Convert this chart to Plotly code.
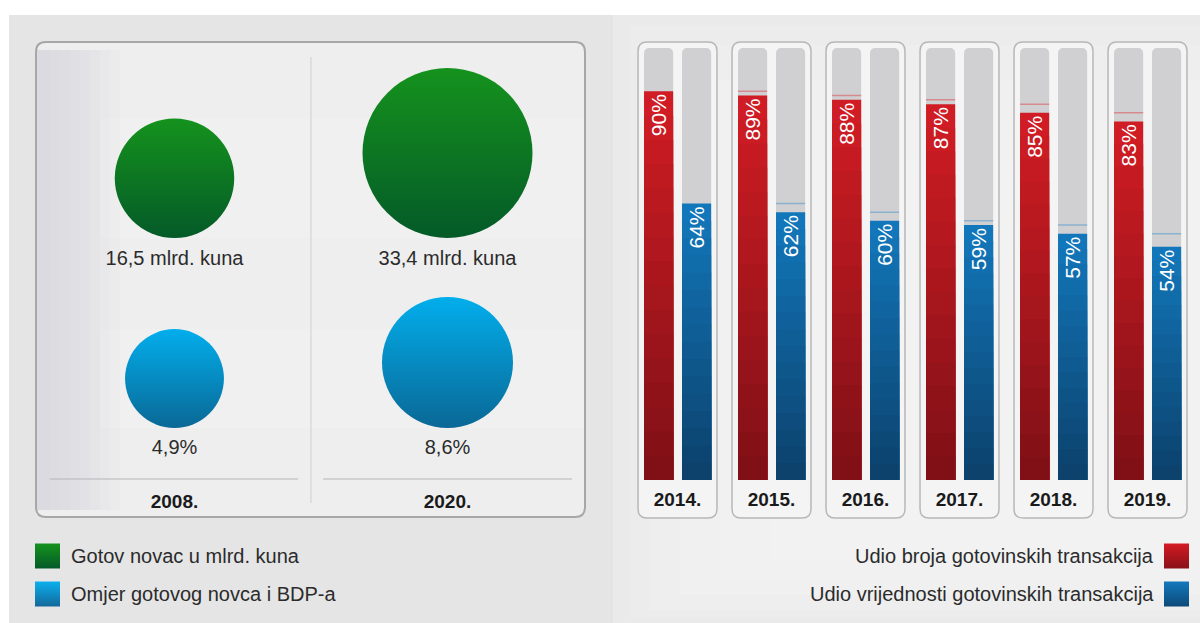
import math
import plotly.graph_objects as go

# ---------------- data ----------------
bubble_years = ["2008.", "2020."]
cash_bn_kuna = [16.5, 33.4]
cash_gdp_pct = [4.9, 8.6]
cash_labels = ["16,5 mlrd. kuna", "33,4 mlrd. kuna"]
gdp_labels = ["4,9%", "8,6%"]

bar_years = ["2014.", "2015.", "2016.", "2017.", "2018.", "2019."]
share_count = [90, 89, 88, 87, 85, 83]
share_value = [64, 62, 60, 59, 57, 54]

legend_left = ["Gotov novac u mlrd. kuna", "Omjer gotovog novca i BDP-a"]
legend_right = ["Udio broja gotovinskih transakcija", "Udio vrijednosti gotovinskih transakcija"]

# ---------------- layout helpers ----------------
W, H = 1200, 623
FONT = "Liberation Sans, Arial, sans-serif"


def px(x):
    return x / W


def py(y):
    return 1 - y / H


BASE_Y, TOP_Y = 480, 48
YDOM = [py(BASE_Y), py(TOP_Y)]
PIX = BASE_Y - TOP_Y  # pixel height of plotting band


def lerp(c1, c2, t):
    return "rgb(%d,%d,%d)" % tuple(round(a + (b - a) * t) for a, b in zip(c1, c2))


def rrect_path(x0, y0, x1, y1, rx, ry, fx, fy):
    """rounded rectangle path; fx/fy convert coordinates to the shape refs"""
    pts = [
        ("M", fx(x0 + rx), fy(y0)),
        ("L", fx(x1 - rx), fy(y0)),
        ("Q", fx(x1), fy(y0), fx(x1), fy(y0 + ry)),
        ("L", fx(x1), fy(y1 - ry)),
        ("Q", fx(x1), fy(y1), fx(x1 - rx), fy(y1)),
        ("L", fx(x0 + rx), fy(y1)),
        ("Q", fx(x0), fy(y1), fx(x0), fy(y1 - ry)),
        ("L", fx(x0), fy(y0 + ry)),
        ("Q", fx(x0), fy(y0), fx(x0 + rx), fy(y0)),
    ]
    s = ""
    for p in pts:
        if p[0] == "Q":
            s += "Q%.5f,%.5f %.5f,%.5f " % p[1:]
        else:
            s += "%s%.5f,%.5f " % p
    return s + "Z"


fig = go.Figure()

# ---------------- right: stacked gradient bars ----------------
idx = list(range(len(bar_years)))
BW = 0.31
OFF_R, OFF_B = -0.356, 0.048

# grey tracks
for off in (OFF_R, OFF_B):
    fig.add_trace(go.Bar(
        x=idx, y=[100] * len(idx), width=BW, offset=off,
        marker=dict(color="#d0d0d2", line=dict(width=0), cornerradius=5),
        hoverinfo="skip", xaxis="x", yaxis="y"))

N = 16
series = [
    (share_count, OFF_R, (208, 28, 36), (128, 16, 22), "Udio broja"),
    (share_value, OFF_B, (18, 118, 186), (12, 66, 108), "Udio vrijednosti"),
]
for vals, off, ctop, cbot, name in series:
    for j in range(N):
        fig.add_trace(go.Bar(
            x=idx, y=[v * (N - j) / N for v in vals], width=BW, offset=off,
            marker=dict(color=lerp(ctop, cbot, j / (N - 1)), line=dict(width=0)),
            hoverinfo="skip", xaxis="x", yaxis="y"))
    fig.add_trace(go.Bar(
        x=idx, y=vals, width=BW, offset=off, name=name,
        marker=dict(color="rgba(0,0,0,0)", line=dict(width=0)),
        text=["%d%%" % v for v in vals], textposition="inside",
        insidetextanchor="end", textangle=-90, constraintext="none",
        textfont=dict(color="white", size=21, family=FONT),
        hovertemplate="%{y}%<extra>" + name + "</extra>",
        xaxis="x", yaxis="y"))

# ---------------- left: bubbles ----------------
D_CASH, D_GDP = 170, 131
sref_cash = 2.0 * max(cash_bn_kuna) / D_CASH ** 2
sref_gdp = 2.0 * max(cash_gdp_pct) / D_GDP ** 2
BASE_CASH, BASE_GDP = 242, 52  # pixel baselines above the axis


def radius(v, sref):
    return math.sqrt(v / 2.0 / sref)


bx = [0, 1]
fig.add_trace(go.Scatter(
    x=bx, y=[BASE_CASH + radius(v, sref_cash) for v in cash_bn_kuna],
    mode="markers", name="Gotov novac",
    marker=dict(size=cash_bn_kuna, sizemode="area", sizeref=sref_cash,
                color="#15921d", gradient=dict(type="vertical", color="#045a28"),
                line=dict(width=0), opacity=1),
    hoverinfo="skip", xaxis="x2", yaxis="y2"))
fig.add_trace(go.Scatter(
    x=bx, y=[BASE_GDP + radius(v, sref_gdp) for v in cash_gdp_pct],
    mode="markers", name="Omjer",
    marker=dict(size=cash_gdp_pct, sizemode="area", sizeref=sref_gdp,
                color="#02aeec", gradient=dict(type="vertical", color="#0a6896"),
                line=dict(width=0), opacity=1),
    hoverinfo="skip", xaxis="x2", yaxis="y2"))
fig.add_trace(go.Scatter(
    x=bx, y=[220.5] * 2, mode="text", text=cash_labels,
    textfont=dict(size=20, color="#2b2b2b", family=FONT),
    hoverinfo="skip", xaxis="x2", yaxis="y2"))
fig.add_trace(go.Scatter(
    x=bx, y=[31] * 2, mode="text", text=gdp_labels,
    textfont=dict(size=20, color="#2b2b2b", family=FONT),
    hoverinfo="skip", xaxis="x2", yaxis="y2"))

# ---------------- legend swatches (pixel overlay axis) ----------------
sw_x = [47.5, 47.5, 1176.5, 1176.5]
sw_y = [556, 594, 556, 594]
sw_top = ["#15921d", "#0ab0ee", "#d41b24", "#1478bd"]
sw_bot = ["#045a28", "#14689a", "#8a1018", "#0c4a78"]
for xx, yy, ct, cb in zip(sw_x, sw_y, sw_top, sw_bot):
    fig.add_trace(go.Scatter(
        x=[xx], y=[yy], mode="markers",
        marker=dict(symbol="square", size=25, color=ct,
                    gradient=dict(type="vertical", color=cb), line=dict(width=0)),
        hoverinfo="skip", xaxis="x3", yaxis="y3"))

annotations = []
for i, t in enumerate(legend_left):
    annotations.append(dict(x=69, y=sw_y[i], xref="x3", yref="y3", text=t,
                            showarrow=False, xanchor="left", yanchor="middle",
                            font=dict(size=20, color="#2b2b2b", family=FONT)))
for i, t in enumerate(legend_right):
    annotations.append(dict(x=1156, y=sw_y[i + 2], xref="x3", yref="y3", text=t,
                            showarrow=False, xanchor="right", yanchor="middle",
                            font=dict(size=20, color="#2b2b2b", family=FONT)))

# ---------------- decorative shapes ----------------
shapes = []


def prect(x0, y0, x1, y1, color):
    shapes.append(dict(type="rect", xref="paper", yref="paper", x0=px(x0), x1=px(x1),
                       y0=py(y1), y1=py(y0), fillcolor=color, line=dict(width=0),
                       layer="below"))


# page background with a soft vignette
prect(9, 15, 1200, 623, "#e5e5e6")
prect(612, 15, 1200, 623, "#eaeaeb")
for x0, y0, y1 in [(630, 25, 618), (650, 45, 610), (680, 80, 595),
                   (720, 120, 580), (770, 160, 560)]:
    prect(x0, y0, 1200, y1, "rgba(255,255,255,0.12)")
shapes.append(dict(type="line", xref="paper", yref="paper", x0=px(612), x1=px(612),
                   y0=0, y1=py(15), line=dict(color="#dedede", width=1), layer="below"))
# left panel box
shapes.append(dict(type="path", xref="paper", yref="paper", layer="below",
                   path=rrect_path(36, 42, 585, 517, 10, 10, px, py),
                   fillcolor="#eeeeee", line=dict(color="#a7a7a7", width=2)))
for k in range(8):
    prect(37, 50, 40 + 10 * (k + 1), 510, "rgba(205,205,207,0.07)")
# light bands behind the bubbles
for y0, y1 in ((119, 238), (329, 428)):
    prect(100, y0, 584, y1, "rgba(255,255,255,0.12)")
# vertical divider inside left box
shapes.append(dict(type="line", xref="x2", yref="paper", x0=0.5, x1=0.5, y0=py(503), y1=py(57),
                   line=dict(color="#cfcfcf", width=1), layer="below"))
# separator lines above the year labels
for xa, xb in ((50, 298), (323, 572)):
    shapes.append(dict(type="line", xref="paper", yref="paper", x0=px(xa), x1=px(xb),
                       y0=py(479), y1=py(479), line=dict(color="#b5b5b5", width=1), layer="below"))

# cards behind the bar pairs
unit = (1194.5 - 630.5) / len(bar_years)
for i in idx:
    shapes.append(dict(type="path", xref="x", yref="paper", layer="below",
                       path=rrect_path(i - 0.42, 42, i + 0.42, 518, 9 / unit, 9,
                                       lambda v: v, py),
                       fillcolor="#f4f4f4", line=dict(color="#b7b7b7", width=1.5)))

# faint markers of the previous year's level
for i in idx[1:]:
    shapes.append(dict(type="line", xref="x", yref="y", x0=i + OFF_R, x1=i + OFF_R + BW,
                       y0=share_count[i - 1], y1=share_count[i - 1],
                       line=dict(color="rgba(214,120,124,0.8)", width=1.5)))
    shapes.append(dict(type="line", xref="x", yref="y", x0=i + OFF_B, x1=i + OFF_B + BW,
                       y0=share_value[i - 1], y1=share_value[i - 1],
                       line=dict(color="rgba(120,170,205,0.8)", width=1.5)))

hidden = dict(showgrid=False, zeroline=False, showline=False, showticklabels=False, ticks="")
tickfont = dict(size=19, color="#1a1a1a", family=FONT, weight="bold")

fig.update_layout(
    width=W, height=H,
    margin=dict(l=0, r=0, t=0, b=0),
    paper_bgcolor="white", plot_bgcolor="rgba(0,0,0,0)",
    showlegend=False, barmode="overlay",
    font=dict(family=FONT),
    shapes=shapes, annotations=annotations,
    xaxis=dict(domain=[px(630.5), px(1194.5)], range=[-0.5, 5.5], anchor="y",
               tickvals=idx, ticktext=bar_years, tickfont=tickfont,
               ticks="outside", ticklen=2, tickcolor="rgba(0,0,0,0)",
               showgrid=False, zeroline=False, showline=False, fixedrange=True),
    yaxis=dict(domain=YDOM, range=[0, 100], anchor="x", **hidden, fixedrange=True),
    xaxis2=dict(domain=[px(38), px(584)], range=[-0.5, 1.5], anchor="y2",
                tickvals=bx, ticktext=bubble_years, tickfont=tickfont,
                ticks="outside", ticklen=4, tickcolor="rgba(0,0,0,0)",
                showgrid=False, zeroline=False, showline=False, fixedrange=True),
    yaxis2=dict(domain=YDOM, range=[0, PIX], anchor="x2", **hidden, fixedrange=True),
    xaxis3=dict(domain=[0, 1], range=[0, W], anchor="y3", **hidden, fixedrange=True),
    yaxis3=dict(domain=[0, 1], range=[H, 0], anchor="x3", **hidden, fixedrange=True),
)

fig.write_html("out.html")
